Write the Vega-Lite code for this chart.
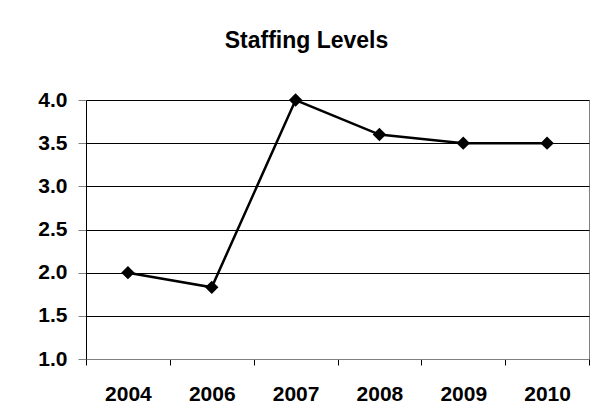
{
  "$schema": "https://vega.github.io/schema/vega-lite/v6.json",
  "width": 503,
  "height": 259,
  "autosize": {"type": "none"},
  "padding": {"left": 86, "top": 100, "right": 6, "bottom": 55},
  "background": "white",
  "title": {
    "text": "Staffing Levels",
    "font": "Liberation Sans",
    "fontSize": 23,
    "fontWeight": "bold",
    "color": "black",
    "anchor": "middle",
    "dx": -31,
    "offset": 36
  },
  "data": {
    "values": [
      {"year": "2004", "level": 2.0},
      {"year": "2006", "level": 1.83},
      {"year": "2007", "level": 4.0},
      {"year": "2008", "level": 3.6},
      {"year": "2009", "level": 3.5},
      {"year": "2010", "level": 3.5}
    ]
  },
  "encoding": {
    "x": {
      "field": "year",
      "type": "ordinal",
      "bandPosition": 0.5,
      "scale": {"type": "band", "paddingInner": 0, "paddingOuter": 0},
      "axis": {
        "title": null,
        "labelAngle": 0,
        "labelFont": "Liberation Sans",
        "labelFontSize": 21,
        "labelFontWeight": "bold",
        "labelColor": "black",
        "labelPadding": 18,
        "tickBand": "extent",
        "tickSize": 6,
        "tickColor": "black",
        "domainColor": "#808080",
        "grid": false
      }
    },
    "y": {
      "field": "level",
      "type": "quantitative",
      "scale": {"domain": [1, 4], "nice": false, "zero": false},
      "axis": {
        "title": null,
        "values": [1, 1.5, 2, 2.5, 3, 3.5, 4],
        "format": ".1f",
        "labelFont": "Liberation Sans",
        "labelFontSize": 21,
        "labelFontWeight": "bold",
        "labelColor": "black",
        "labelPadding": 11,
        "tickSize": 8,
        "tickColor": "#808080",
        "domainColor": "black",
        "grid": true,
        "gridColor": "black",
        "gridOpacity": 1,
        "gridWidth": 1
      }
    }
  },
  "layer": [
    {"mark": {"type": "line", "color": "black", "strokeWidth": 2.5}},
    {"mark": {"type": "point", "shape": "diamond", "filled": true, "color": "black", "opacity": 1, "size": 180}}
  ],
  "config": {
    "view": {"stroke": "#808080", "strokeWidth": 1}
  }
}
